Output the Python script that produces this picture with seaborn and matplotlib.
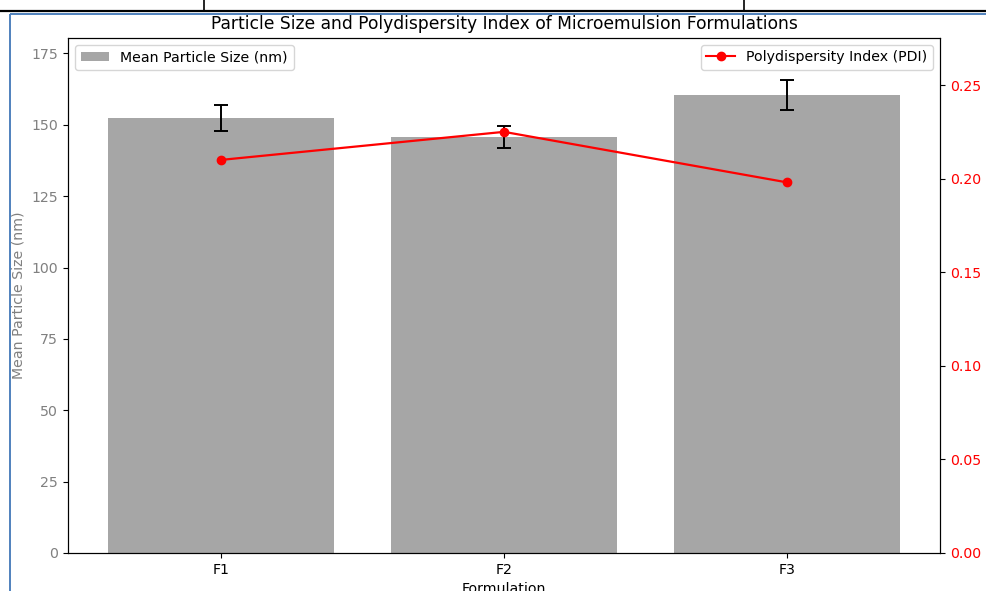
import numpy as np
import matplotlib
matplotlib.use("Agg")
import matplotlib.pyplot as plt
from matplotlib.lines import Line2D
from matplotlib.patches import Patch
import seaborn as sns

# Formulation data
formulations = ["F1", "F2", "F3"]
mean_size_nm = [152.3, 145.7, 160.5]
size_sd_nm = [4.5, 3.8, 5.2]
pdi = [0.210, 0.225, 0.198]

plt.rcParams["font.size"] = 10.2

W, H = 987, 591
fig = plt.figure(figsize=(W / 100, H / 100), dpi=100)
fig.patch.set_facecolor("white")

# Axes placed in pixel terms
left, right, top, bottom = 68, 940, 37.7, 553
ax = fig.add_axes([left / W, (H - bottom) / H, (right - left) / W, (bottom - top) / H])

positions = np.arange(len(formulations))

sns.barplot(x=positions, y=mean_size_nm, ax=ax, color="gray", alpha=0.7,
            width=0.8, errorbar=None, native_scale=True, saturation=1)
ax.errorbar(positions, mean_size_nm, yerr=size_sd_nm, fmt="none",
            ecolor="black", capsize=5, elinewidth=1.4, capthick=1.4)

ax.set_xlim(-0.54, 2.54)
ax.set_ylim(0, 180.5)
ax.set_xticks(positions)
ax.set_xticklabels(formulations)
ax.set_xlabel("Formulation")
ax.set_ylabel("Mean Particle Size (nm)", color="gray")
ax.tick_params(axis="y", labelcolor="gray")
ax.set_yticks([0, 25, 50, 75, 100, 125, 150, 175])
ax.set_title("Particle Size and Polydispersity Index of Microemulsion Formulations",
             fontsize=12.3)

ax2 = ax.twinx()
sns.lineplot(x=positions, y=pdi, ax=ax2, color="red", marker="o",
             markersize=6, markeredgecolor="red", markeredgewidth=1,
             linewidth=1.6)
ax2.set_ylim(0, 0.2753)
ax2.set_yticks([0.0, 0.05, 0.10, 0.15, 0.20, 0.25])
ax2.set_yticklabels([f"{v:.2f}" for v in [0.0, 0.05, 0.10, 0.15, 0.20, 0.25]])
ax2.set_ylabel("Polydispersity Index (PDI)", color="red")
ax2.tick_params(axis="y", labelcolor="red")
ax2.set_xlim(-0.54, 2.54)

bar_handle = Patch(facecolor="gray", alpha=0.7, label="Mean Particle Size (nm)")
line_handle = Line2D([0], [0], color="red", marker="o", markersize=6,
                     label="Polydispersity Index (PDI)")
ax.legend(handles=[bar_handle], loc="upper left")
ax2.legend(handles=[line_handle], loc="upper right")

# Page frame lines around the figure
def px_line(x0, y0, x1, y1, color, lw):
    fig.add_artist(Line2D([x0 / W, x1 / W], [1 - y0 / H, 1 - y1 / H],
                          transform=fig.transFigure, color=color, linewidth=lw,
                          solid_capstyle="butt"))

px_line(0, 11, W, 11, "black", 1.6)
px_line(204, 0, 204, 11, "black", 1.2)
px_line(744, 0, 744, 11, "black", 1.2)
px_line(10, 14.2, W, 14.2, "#4f81bd", 1.4)
px_line(10, 14.2, 10, H, "#4f81bd", 1.4)

fig.savefig("out.png", dpi=100)
